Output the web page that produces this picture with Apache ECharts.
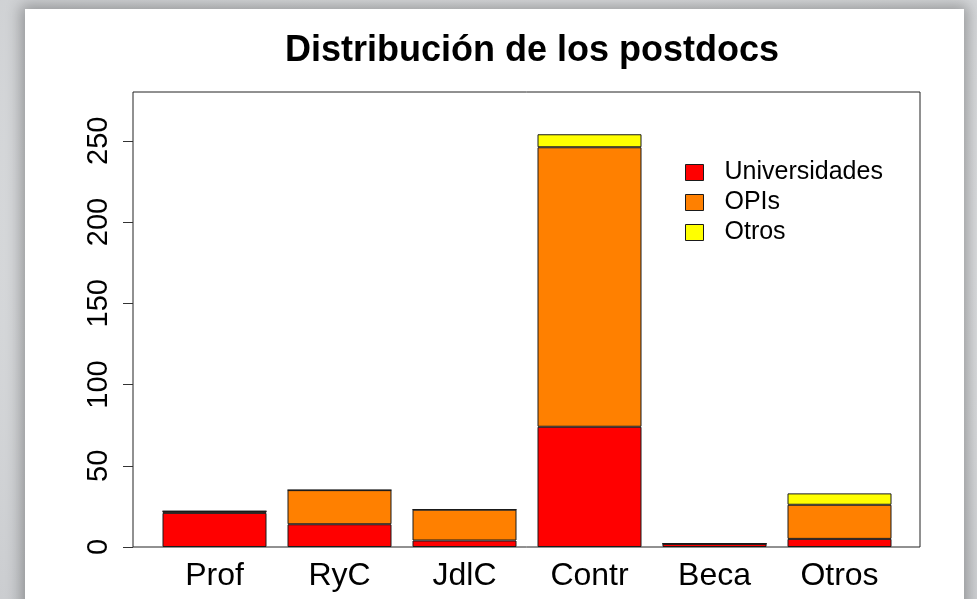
<!DOCTYPE html>
<html>
<head>
<meta charset="utf-8">
<script src="https://cdn.jsdelivr.net/npm/echarts@6/dist/echarts.min.js"></script>
<style>
  html, body { margin: 0; padding: 0; }
  body {
    width: 977px; height: 599px; overflow: hidden; position: relative;
    background: radial-gradient(ellipse at 60% 40%, #e6e7e9 0%, #d8dadc 60%, #cbcdd0 100%);
  }
  #panel {
    position: absolute; left: 25px; top: 9px; width: 939px; height: 620px;
    background: #fff; box-shadow: 0 0 14px 4px rgba(0,0,0,0.3);
  }
  #main { position: absolute; left: 0; top: 0; width: 977px; height: 599px; }
</style>
</head>
<body>
<div id="panel"></div>
<div id="main"></div>
<script>
// datos
var categories = ['Prof', 'RyC', 'JdlC', 'Contr', 'Beca', 'Otros'];
var universidades = [21, 14, 4, 74, 2, 5];
var opis = [1, 21, 19, 172, 0, 21];
var otros = [0, 0, 0, 8, 0, 7];
var yTicks = [0, 50, 100, 150, 200, 250];

var font = '"Liberation Sans", Arial, Helvetica, sans-serif';

function barSerie(name, color, data) {
    return {
        name: name,
        type: 'bar',
        stack: 'total',
        barWidth: 104,
        data: data,
        itemStyle: { color: color, borderColor: '#1a1a1a', borderWidth: 1 }
    };
}

var myChart = echarts.init(document.getElementById('main'), null, { renderer: 'canvas' });
var option = {
    backgroundColor: 'transparent',
    animation: false,
    title: {
        text: 'Distribución de los postdocs',
        left: 527,
        textAlign: 'center',
        top: 28,
        textStyle: { fontFamily: font, fontSize: 36, fontWeight: 'bold', color: '#000' }
    },
    legend: {
        orient: 'vertical',
        left: 680,
        top: 155,
        itemWidth: 18,
        itemHeight: 16,
        itemGap: 5,
        icon: 'rect',
        textStyle: { fontFamily: font, fontSize: 25, color: '#000', padding: [0, 0, 0, 16] },
        data: [
            { name: 'Universidades', itemStyle: { color: '#ff0000', borderColor: '#1a1a1a', borderWidth: 1 } },
            { name: 'OPIs', itemStyle: { color: '#ff8000', borderColor: '#1a1a1a', borderWidth: 1 } },
            { name: 'Otros', itemStyle: { color: '#ffff00', borderColor: '#1a1a1a', borderWidth: 1 } }
        ]
    },
    grid: [
        { left: 152, right: 75, top: 92, bottom: 52 },
        { left: 133, right: 57, top: 92, bottom: 52, show: true, borderColor: '#222', borderWidth: 1, backgroundColor: 'transparent' }
    ],
    xAxis: [
        {
            type: 'category',
            gridIndex: 0,
            data: categories,
            axisLine: { show: false },
            axisTick: { show: false },
            axisLabel: { fontFamily: font, fontSize: 32, color: '#000', margin: 13 }
        },
        { type: 'value', gridIndex: 1, show: false, min: 0, max: 1 }
    ],
    yAxis: [
        {
            type: 'value',
            gridIndex: 0,
            min: 0,
            max: 280,
            offset: 19,
            splitLine: { show: false },
            axisLine: { show: false },
            axisTick: { show: true, inside: false, length: 10, lineStyle: { color: '#333' }, customValues: yTicks },
            axisLabel: { fontFamily: font, fontSize: 29, color: '#000', rotate: 90, margin: 20, customValues: yTicks }
        },
        { type: 'value', gridIndex: 1, show: false, min: 0, max: 1 }
    ],
    series: [
        barSerie('Universidades', '#ff0000', universidades),
        barSerie('OPIs', '#ff8000', opis),
        barSerie('Otros', '#ffff00', otros)
    ]
};
window.onresize = myChart.resize;
myChart.setOption(option);
</script>
</body>
</html>
